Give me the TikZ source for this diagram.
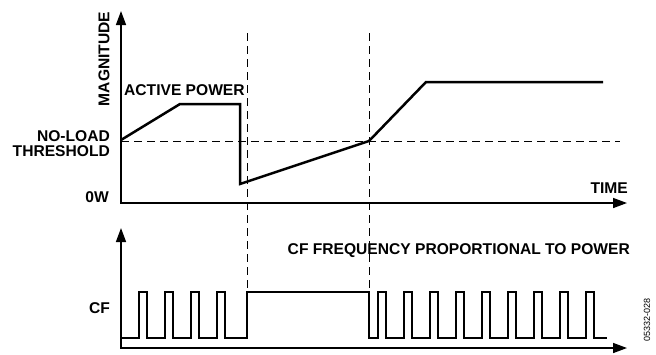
\documentclass[tikz,border=0pt]{standalone}
\usepackage{fontspec}
\setmainfont{Liberation Sans}
\usetikzlibrary{arrows.meta}
\tikzset{
  lbl/.style={font=\fontsize{15.6}{17}\selectfont\bfseries, inner sep=0pt},
  axis/.style={line width=1.5pt, {Triangle[length=14pt,width=10pt]}-{Triangle[length=14pt,width=10pt]}},
  sig/.style={line width=2.5pt, line join=miter},
  pulse/.style={line width=2pt, line join=miter},
  guide/.style={line width=1pt, dash pattern=on 8pt off 5pt},
}
\begin{document}
\begin{tikzpicture}[x=1pt,y=-1pt]
\useasboundingbox (0,0) rectangle (656,354);
% guides
\draw[guide] (121,141) -- (620,141);
\draw[guide] (247,33) -- (247,291);
\draw[guide] (369,33) -- (369,291);
% upper axes
\draw[axis] (121,11) -- (121,203) -- (627,203);
% active power curve
\draw[sig] (121,140) -- (180,104) -- (240,104) -- (240,184) -- (369,141) -- (426,82) -- (603,82);
% lower axes
\draw[axis] (121,228) -- (121,348) -- (627,348);
% CF waveform
\draw[pulse] (121,338)
  foreach \x in {139,165,191,217} { -- (\x,338) -- (\x,292) -- (\x+8,292) -- (\x+8,338) }
  -- (247,338) -- (247,292) -- (369,292) -- (369,338)
  foreach \x in {378,404,430,456,482,508,534,560,586} { -- (\x,338) -- (\x,292) -- (\x+8,292) -- (\x+8,338) }
  -- (607,338);
% labels
\node[lbl, rotate=90] (mag) at (104,59) {MAGNITUDE};
\node[lbl, anchor=west] (ap) at (124,90) {ACTIVE POWER};
\node[lbl, anchor=east] (nl) at (110,136) {NO-LOAD};
\node[lbl, anchor=east] (th) at (110,151) {THRESHOLD};
\node[lbl, anchor=east] (zw) at (109,197) {0W};
\node[lbl, anchor=east] (time) at (628,188) {TIME};
\node[lbl, anchor=east] (cf) at (110,308) {CF};
\node[lbl, anchor=east] (cff) at (630,251) {CF FREQUENCY PROPORTIONAL TO POWER};
\node[font=\fontsize{9}{10}\selectfont, inner sep=0pt, rotate=90] (id) at (647,320) {05332-028};
\end{tikzpicture}
\end{document}
